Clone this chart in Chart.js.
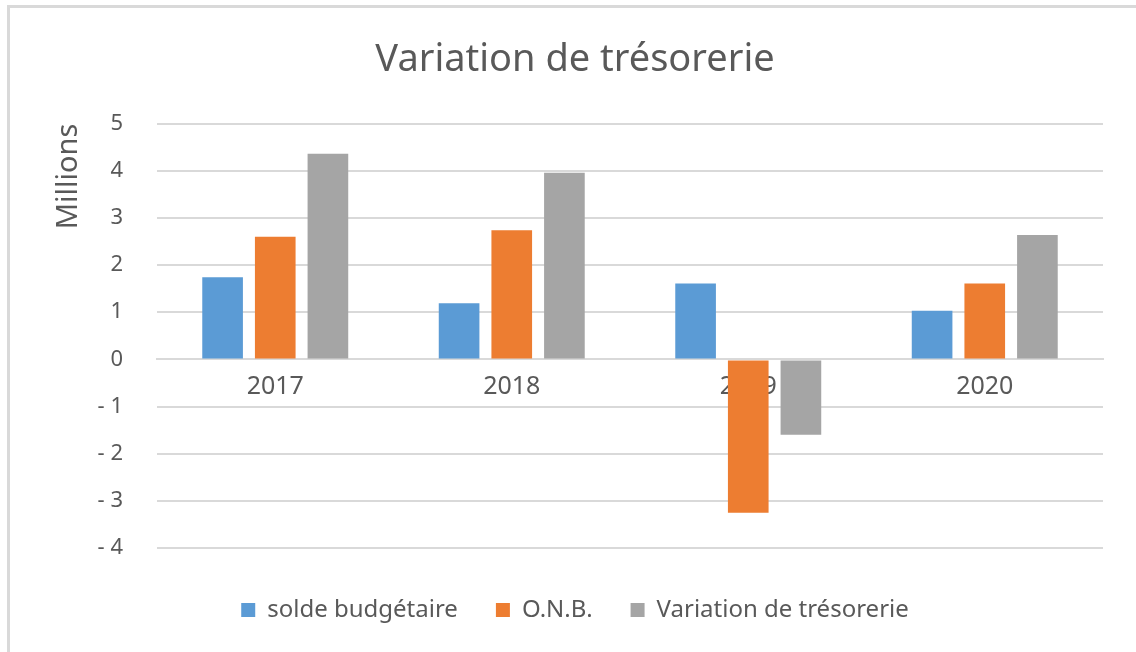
<!DOCTYPE html>
<html>
<head>
<meta charset="utf-8">
<script src="https://cdn.jsdelivr.net/npm/chart.js@4"></script>
<style>
  html, body { margin: 0; padding: 0; background: #fff; }
  #wrap { width: 1136px; height: 652px; }
</style>
</head>
<body>
<div id="wrap"><canvas id="chart" width="1136" height="652"></canvas></div>
<script>
// data (millions)
var years = ['2017', '2018', '2019', '2020'];
var soldeBudgetaire = [1.74, 1.19, 1.61, 1.03];
var onb = [2.60, 2.74, -3.25, 1.61];
var variationTresorerie = [4.36, 3.96, -1.60, 2.64];
var seriesNames = ['solde budgétaire', 'O.N.B.', 'Variation de trésorerie'];

var textColor = '#595959';
var gridColor = '#D9D9D9';
var fontFamily = "'Noto Sans', 'Open Sans', sans-serif";

// grey frame edge (only top and left show, the rest is cropped)
var framePlugin = {
  id: 'frame',
  beforeDraw: function(chart) {
    var ctx = chart.ctx;
    ctx.save();
    ctx.fillStyle = '#fff';
    ctx.fillRect(0, 0, chart.width, chart.height);
    ctx.strokeStyle = gridColor;
    ctx.lineWidth = 3;
    ctx.beginPath();
    ctx.moveTo(8.5, chart.height);
    ctx.lineTo(8.5, 6.5);
    ctx.lineTo(chart.width, 6.5);
    ctx.stroke();
    ctx.restore();
  }
};

var config = {
  type: 'bar',
  data: {
    labels: years,
    datasets: [{
      label: seriesNames[0],
      data: soldeBudgetaire,
      backgroundColor: '#5B9BD5'
    }, {
      label: seriesNames[1],
      data: onb,
      backgroundColor: '#ED7D31'
    }, {
      label: seriesNames[2],
      data: variationTresorerie,
      backgroundColor: '#A5A5A5'
    }]
  },
  options: {
    responsive: false,
    animation: false,
    categoryPercentage: 0.668,
    barPercentage: 0.772,
    layout: {
      padding: { left: 47, right: 33, top: 20, bottom: 20 }
    },
    plugins: {
      title: {
        display: true,
        text: 'Variation de trésorerie',
        color: textColor,
        font: { family: fontFamily, size: 38, weight: 'normal' },
        padding: { top: 17, bottom: 41 }
      },
      legend: {
        position: 'bottom',
        title: {
          display: true,
          text: ' ',
          font: { size: 10 },
          padding: 0
        },
        labels: {
          color: textColor,
          font: { family: fontFamily, size: 24 },
          boxWidth: 14,
          boxHeight: 14,
          padding: 38
        }
      },
      tooltip: { enabled: false }
    },
    scales: {
      x: {
        position: { y: 0 },
        grid: { display: false },
        border: { color: gridColor, width: 2 },
        ticks: {
          color: textColor,
          font: { family: fontFamily, size: 25 },
          padding: 4
        }
      },
      y: {
        min: -4,
        max: 5,
        grid: { color: gridColor, lineWidth: 2, drawTicks: false },
        border: { display: false },
        ticks: {
          stepSize: 1,
          color: textColor,
          font: { family: fontFamily, size: 22 },
          padding: 34,
          callback: function(v) { return v < 0 ? '- ' + Math.abs(v) : v; }
        },
        title: {
          display: true,
          text: 'Millions',
          align: 'end',
          color: textColor,
          font: { family: fontFamily, size: 29 },
          padding: { top: 4, bottom: 0 }
        },
        afterFit: function(scale) { scale.width = 110; }
      }
    }
  },
  plugins: [framePlugin]
};

var ctx = document.getElementById('chart').getContext('2d');
window.myBar = new Chart(ctx, config);
</script>
</body>
</html>
